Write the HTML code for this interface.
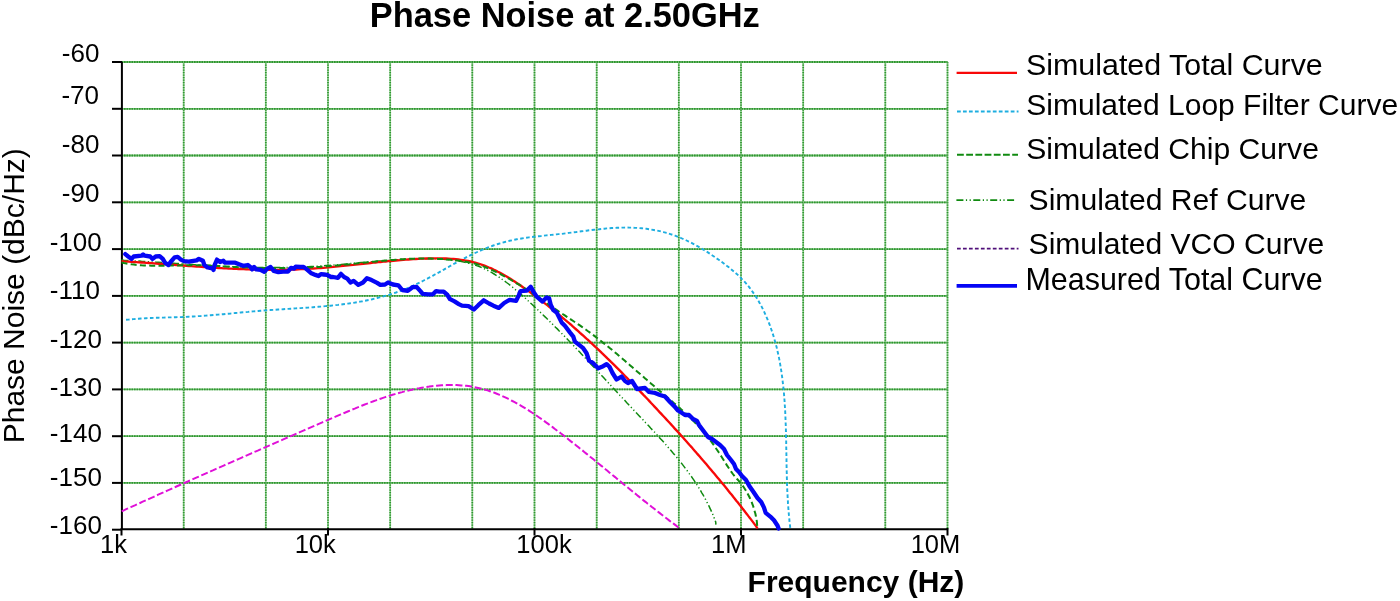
<!DOCTYPE html>
<html><head><meta charset="utf-8"><style>
html,body{margin:0;padding:0;background:#fff;}
svg{display:block;will-change:transform;}
text{font-family:"Liberation Sans",sans-serif;fill:#000;}
.g{stroke:#2f962f;stroke-width:1.7;stroke-dasharray:1.3 1.2;}
.gb{stroke:#8fcc8f;stroke-width:1.7;}
.gh{stroke:#2f962f;stroke-width:1.8;stroke-dasharray:1.6 0.9;}
.ghb{stroke:#7cc27c;stroke-width:1.8;}
</style></head><body>
<svg width="1400" height="601" viewBox="0 0 1400 601">
<rect width="1400" height="601" fill="#fff"/>
<line x1="183.7" y1="62.0" x2="183.7" y2="529.7" class="gb"/>
<line x1="183.7" y1="62.0" x2="183.7" y2="529.7" class="g"/>
<line x1="265.8" y1="62.0" x2="265.8" y2="529.7" class="gb"/>
<line x1="265.8" y1="62.0" x2="265.8" y2="529.7" class="g"/>
<line x1="328.0" y1="62.0" x2="328.0" y2="529.7" class="gb"/>
<line x1="328.0" y1="62.0" x2="328.0" y2="529.7" class="g"/>
<line x1="390.2" y1="62.0" x2="390.2" y2="529.7" class="gb"/>
<line x1="390.2" y1="62.0" x2="390.2" y2="529.7" class="g"/>
<line x1="472.3" y1="62.0" x2="472.3" y2="529.7" class="gb"/>
<line x1="472.3" y1="62.0" x2="472.3" y2="529.7" class="g"/>
<line x1="534.5" y1="62.0" x2="534.5" y2="529.7" class="gb"/>
<line x1="534.5" y1="62.0" x2="534.5" y2="529.7" class="g"/>
<line x1="596.7" y1="62.0" x2="596.7" y2="529.7" class="gb"/>
<line x1="596.7" y1="62.0" x2="596.7" y2="529.7" class="g"/>
<line x1="678.8" y1="62.0" x2="678.8" y2="529.7" class="gb"/>
<line x1="678.8" y1="62.0" x2="678.8" y2="529.7" class="g"/>
<line x1="741.0" y1="62.0" x2="741.0" y2="529.7" class="gb"/>
<line x1="741.0" y1="62.0" x2="741.0" y2="529.7" class="g"/>
<line x1="803.2" y1="62.0" x2="803.2" y2="529.7" class="gb"/>
<line x1="803.2" y1="62.0" x2="803.2" y2="529.7" class="g"/>
<line x1="885.3" y1="62.0" x2="885.3" y2="529.7" class="gb"/>
<line x1="885.3" y1="62.0" x2="885.3" y2="529.7" class="g"/>
<line x1="947.5" y1="62.0" x2="947.5" y2="529.7" class="gb"/>
<line x1="947.5" y1="62.0" x2="947.5" y2="529.7" class="g"/>
<line x1="121.5" y1="62.0" x2="947.5" y2="62.0" class="ghb"/>
<line x1="121.5" y1="62.0" x2="947.5" y2="62.0" class="gh"/>
<line x1="121.5" y1="108.8" x2="947.5" y2="108.8" class="ghb"/>
<line x1="121.5" y1="108.8" x2="947.5" y2="108.8" class="gh"/>
<line x1="121.5" y1="155.5" x2="947.5" y2="155.5" class="ghb"/>
<line x1="121.5" y1="155.5" x2="947.5" y2="155.5" class="gh"/>
<line x1="121.5" y1="202.3" x2="947.5" y2="202.3" class="ghb"/>
<line x1="121.5" y1="202.3" x2="947.5" y2="202.3" class="gh"/>
<line x1="121.5" y1="249.1" x2="947.5" y2="249.1" class="ghb"/>
<line x1="121.5" y1="249.1" x2="947.5" y2="249.1" class="gh"/>
<line x1="121.5" y1="295.9" x2="947.5" y2="295.9" class="ghb"/>
<line x1="121.5" y1="295.9" x2="947.5" y2="295.9" class="gh"/>
<line x1="121.5" y1="342.6" x2="947.5" y2="342.6" class="ghb"/>
<line x1="121.5" y1="342.6" x2="947.5" y2="342.6" class="gh"/>
<line x1="121.5" y1="389.4" x2="947.5" y2="389.4" class="ghb"/>
<line x1="121.5" y1="389.4" x2="947.5" y2="389.4" class="gh"/>
<line x1="121.5" y1="436.2" x2="947.5" y2="436.2" class="ghb"/>
<line x1="121.5" y1="436.2" x2="947.5" y2="436.2" class="gh"/>
<line x1="121.5" y1="482.9" x2="947.5" y2="482.9" class="ghb"/>
<line x1="121.5" y1="482.9" x2="947.5" y2="482.9" class="gh"/>
<path d="M121.9,62.0 V529.2 H947.7" fill="none" stroke="#000" stroke-width="2"/>
<line x1="112" y1="62.0" x2="122" y2="62.0" stroke="#000" stroke-width="2"/>
<line x1="112" y1="108.8" x2="122" y2="108.8" stroke="#000" stroke-width="2"/>
<line x1="112" y1="155.5" x2="122" y2="155.5" stroke="#000" stroke-width="2"/>
<line x1="112" y1="202.3" x2="122" y2="202.3" stroke="#000" stroke-width="2"/>
<line x1="112" y1="249.1" x2="122" y2="249.1" stroke="#000" stroke-width="2"/>
<line x1="112" y1="295.9" x2="122" y2="295.9" stroke="#000" stroke-width="2"/>
<line x1="112" y1="342.6" x2="122" y2="342.6" stroke="#000" stroke-width="2"/>
<line x1="112" y1="389.4" x2="122" y2="389.4" stroke="#000" stroke-width="2"/>
<line x1="112" y1="436.2" x2="122" y2="436.2" stroke="#000" stroke-width="2"/>
<line x1="112" y1="482.9" x2="122" y2="482.9" stroke="#000" stroke-width="2"/>
<line x1="112" y1="529.7" x2="122" y2="529.7" stroke="#000" stroke-width="2"/>
<line x1="121.5" y1="528" x2="121.5" y2="535.5" stroke="#000" stroke-width="2"/>
<line x1="328.0" y1="528" x2="328.0" y2="535.5" stroke="#000" stroke-width="2"/>
<line x1="534.5" y1="528" x2="534.5" y2="535.5" stroke="#000" stroke-width="2"/>
<line x1="741.0" y1="528" x2="741.0" y2="535.5" stroke="#000" stroke-width="2"/>
<line x1="947.5" y1="528" x2="947.5" y2="535.5" stroke="#000" stroke-width="2"/>
<path d="M126.0,319.8 L128.5,319.6 L131.0,319.3 L133.5,319.1 L136.0,318.9 L138.5,318.7 L141.0,318.5 L143.5,318.4 L146.0,318.2 L148.5,318.1 L151.0,318.0 L153.5,317.9 L156.0,317.8 L158.5,317.7 L161.0,317.6 L163.5,317.6 L166.0,317.5 L168.5,317.4 L171.0,317.4 L173.4,317.3 L175.9,317.2 L178.4,317.1 L180.9,317.1 L183.4,317.0 L185.9,316.9 L188.4,316.7 L190.9,316.6 L193.4,316.5 L195.8,316.3 L198.3,316.1 L200.8,316.0 L203.3,315.8 L205.8,315.6 L208.3,315.4 L210.8,315.2 L213.3,315.0 L215.7,314.8 L218.2,314.6 L220.7,314.4 L223.2,314.2 L225.7,313.9 L228.2,313.7 L230.7,313.5 L233.2,313.2 L235.7,313.0 L238.2,312.8 L240.7,312.5 L243.1,312.3 L245.6,312.1 L248.1,311.9 L250.6,311.6 L253.1,311.4 L255.6,311.2 L258.1,311.0 L260.6,310.8 L263.1,310.6 L265.6,310.4 L268.1,310.2 L270.6,310.0 L273.2,309.9 L275.7,309.7 L278.2,309.5 L280.7,309.4 L283.2,309.2 L285.7,309.0 L288.2,308.9 L290.7,308.7 L293.2,308.6 L295.7,308.4 L298.2,308.2 L300.7,308.1 L303.2,307.9 L305.7,307.7 L308.2,307.6 L310.7,307.4 L313.2,307.2 L315.7,307.0 L318.2,306.8 L320.7,306.6 L323.2,306.4 L325.7,306.1 L328.2,305.9 L330.7,305.7 L333.2,305.4 L335.6,305.1 L338.1,304.9 L340.6,304.6 L343.0,304.2 L345.5,303.9 L348.0,303.6 L350.4,303.2 L352.9,302.9 L355.3,302.5 L357.8,302.0 L360.2,301.6 L362.6,301.2 L365.1,300.7 L367.5,300.2 L369.9,299.7 L372.3,299.2 L374.7,298.6 L377.1,298.0 L379.5,297.4 L381.9,296.8 L384.3,296.1 L386.6,295.5 L389.0,294.8 L391.4,294.0 L393.7,293.3 L396.1,292.5 L398.4,291.6 L400.7,290.8 L403.1,289.9 L405.4,289.0 L407.7,288.0 L410.0,287.0 L412.3,286.0 L414.6,285.0 L416.9,283.9 L419.1,282.8 L421.4,281.7 L423.7,280.5 L425.9,279.4 L428.2,278.2 L430.4,277.0 L432.6,275.8 L434.9,274.5 L437.1,273.3 L439.4,272.1 L441.6,270.8 L443.8,269.6 L446.0,268.3 L448.3,267.1 L450.5,265.8 L452.7,264.6 L454.9,263.4 L457.2,262.2 L459.4,261.0 L461.6,259.8 L463.9,258.6 L466.1,257.4 L468.3,256.3 L470.6,255.2 L472.8,254.1 L475.1,253.0 L477.3,252.0 L479.6,251.0 L481.9,250.0 L484.1,249.0 L486.4,248.1 L488.7,247.2 L491.0,246.4 L493.3,245.5 L495.6,244.8 L497.9,244.0 L500.2,243.3 L502.6,242.6 L504.9,242.0 L507.3,241.4 L509.6,240.8 L512.0,240.3 L514.4,239.8 L516.8,239.3 L519.2,238.9 L521.6,238.5 L524.0,238.1 L526.5,237.7 L528.9,237.4 L531.4,237.1 L533.8,236.8 L536.3,236.5 L538.8,236.2 L541.2,236.0 L543.7,235.7 L546.2,235.4 L548.7,235.2 L551.2,234.9 L553.7,234.7 L556.2,234.4 L558.7,234.1 L561.3,233.9 L563.8,233.6 L566.3,233.3 L568.8,232.9 L571.4,232.6 L573.9,232.3 L576.4,232.0 L579.0,231.6 L581.5,231.3 L584.0,231.0 L586.6,230.7 L589.1,230.3 L591.6,230.0 L594.2,229.7 L596.7,229.4 L599.2,229.2 L601.8,228.9 L604.3,228.7 L606.8,228.4 L609.3,228.2 L611.8,228.0 L614.4,227.9 L616.9,227.8 L619.4,227.7 L621.9,227.6 L624.4,227.6 L626.9,227.5 L629.3,227.6 L631.8,227.6 L634.3,227.8 L636.8,227.9 L639.2,228.1 L641.7,228.3 L644.1,228.5 L646.5,228.8 L649.0,229.2 L651.4,229.6 L653.8,230.0 L656.2,230.4 L658.6,230.9 L661.0,231.5 L663.4,232.1 L665.7,232.7 L668.1,233.4 L670.4,234.1 L672.8,234.9 L675.1,235.7 L677.4,236.6 L679.7,237.5 L682.0,238.5 L684.3,239.5 L686.6,240.5 L688.8,241.6 L691.1,242.7 L693.3,243.9 L695.5,245.1 L697.8,246.3 L699.9,247.6 L702.1,248.9 L704.3,250.2 L706.5,251.5 L708.6,252.9 L710.7,254.3 L712.8,255.7 L714.9,257.1 L717.0,258.6 L719.1,260.0 L721.1,261.5 L723.2,263.0 L725.2,264.5 L727.1,266.0 L729.1,267.5 L731.0,269.1 L732.9,270.7 L734.8,272.3 L736.7,273.9 L738.5,275.6 L740.3,277.3 L742.0,279.1 L743.7,280.8 L745.4,282.7 L747.0,284.5 L748.6,286.4 L750.1,288.4 L751.6,290.4 L753.0,292.4 L754.4,294.4 L755.8,296.5 L757.1,298.6 L758.4,300.8 L759.6,303.0 L760.8,305.1 L762.0,307.4 L763.1,309.6 L764.2,311.8 L765.2,314.1 L766.2,316.4 L767.2,318.6 L768.2,321.0 L769.1,323.3 L770.0,325.6 L770.8,328.0 L771.6,330.3 L772.4,332.7 L773.2,335.1 L773.9,337.5 L774.6,339.9 L775.3,342.3 L775.9,344.7 L776.6,347.1 L777.1,349.6 L777.7,352.0 L778.3,354.4 L778.8,356.9 L779.3,359.4 L779.7,361.8 L780.2,364.3 L780.6,366.8 L781.0,369.2 L781.4,371.7 L781.7,374.2 L782.1,376.7 L782.4,379.1 L782.7,381.6 L783.0,384.1 L783.3,386.6 L783.5,389.1 L783.8,391.6 L784.0,394.0 L784.2,396.5 L784.4,399.0 L784.6,401.5 L784.7,404.0 L784.9,406.5 L785.0,409.0 L785.2,411.5 L785.3,413.9 L785.4,416.4 L785.5,418.9 L785.6,421.4 L785.7,423.9 L785.8,426.4 L785.9,428.9 L785.9,431.4 L786.0,433.9 L786.0,436.4 L786.1,438.9 L786.2,441.4 L786.2,443.9 L786.2,446.4 L786.3,448.9 L786.3,451.4 L786.4,453.9 L786.4,456.4 L786.5,458.9 L786.5,461.4 L786.5,463.9 L786.6,466.4 L786.6,468.9 L786.7,471.4 L786.8,473.9 L786.8,476.4 L786.9,478.9 L787.0,481.4 L787.0,483.9 L787.1,486.4 L787.2,488.9 L787.3,491.4 L787.5,493.9 L787.6,496.4 L787.7,498.9 L787.9,501.4 L788.0,503.9 L788.2,506.3 L788.4,508.8 L788.6,511.3 L788.8,513.8 L789.0,516.3 L789.3,518.8 L789.5,521.3 L789.8,523.8 L790.1,526.3 L790.3,528.8" fill="none" stroke="#1eaee0" stroke-width="1.9" stroke-dasharray="3.6 2.4"/>
<path d="M121.7,511.3 L123.9,510.3 L126.2,509.2 L128.5,508.2 L130.8,507.1 L133.1,506.1 L135.4,505.1 L137.7,504.0 L140.0,503.0 L142.2,501.9 L144.5,500.9 L146.8,499.9 L149.1,498.8 L151.4,497.8 L153.7,496.8 L155.9,495.7 L158.2,494.7 L160.5,493.7 L162.8,492.7 L165.1,491.6 L167.3,490.6 L169.6,489.6 L171.9,488.6 L174.2,487.6 L176.4,486.5 L178.7,485.5 L181.0,484.5 L183.3,483.5 L185.5,482.5 L187.8,481.5 L190.1,480.4 L192.4,479.4 L194.6,478.4 L196.9,477.4 L199.2,476.4 L201.4,475.4 L203.7,474.4 L206.0,473.4 L208.3,472.4 L210.5,471.4 L212.8,470.4 L215.1,469.3 L217.3,468.3 L219.6,467.3 L221.9,466.3 L224.2,465.3 L226.4,464.3 L228.7,463.3 L231.0,462.3 L233.2,461.3 L235.5,460.3 L237.8,459.3 L240.1,458.3 L242.3,457.3 L244.6,456.3 L246.9,455.3 L249.1,454.3 L251.4,453.3 L253.7,452.3 L256.0,451.3 L258.3,450.4 L260.5,449.4 L262.8,448.4 L265.1,447.4 L267.4,446.4 L269.6,445.4 L271.9,444.4 L274.2,443.4 L276.5,442.4 L278.8,441.4 L281.0,440.4 L283.3,439.4 L285.6,438.4 L287.9,437.4 L290.2,436.4 L292.5,435.4 L294.8,434.4 L297.0,433.4 L299.3,432.4 L301.6,431.4 L303.9,430.4 L306.2,429.4 L308.5,428.4 L310.8,427.4 L313.1,426.4 L315.4,425.4 L317.7,424.4 L320.0,423.4 L322.3,422.4 L324.6,421.4 L326.9,420.4 L329.2,419.4 L331.5,418.4 L333.8,417.4 L336.1,416.4 L338.5,415.4 L340.8,414.4 L343.1,413.4 L345.4,412.5 L347.7,411.5 L350.1,410.5 L352.4,409.5 L354.7,408.6 L357.0,407.6 L359.4,406.7 L361.7,405.7 L364.1,404.8 L366.4,403.9 L368.8,403.0 L371.1,402.1 L373.5,401.2 L375.8,400.4 L378.2,399.5 L380.6,398.7 L383.0,397.9 L385.3,397.1 L387.7,396.3 L390.1,395.6 L392.5,394.8 L394.9,394.1 L397.3,393.4 L399.7,392.7 L402.2,392.1 L404.6,391.4 L407.0,390.8 L409.5,390.2 L411.9,389.7 L414.3,389.1 L416.8,388.6 L419.3,388.2 L421.7,387.7 L424.2,387.3 L426.7,386.9 L429.2,386.6 L431.7,386.2 L434.1,386.0 L436.6,385.7 L439.1,385.5 L441.6,385.3 L444.1,385.2 L446.6,385.1 L449.0,385.0 L451.5,385.0 L454.0,385.0 L456.5,385.1 L458.9,385.2 L461.4,385.4 L463.8,385.6 L466.2,385.8 L468.7,386.1 L471.1,386.5 L473.5,386.9 L475.8,387.4 L478.2,387.9 L480.6,388.5 L482.9,389.1 L485.3,389.7 L487.6,390.4 L489.9,391.2 L492.2,392.0 L494.5,392.8 L496.8,393.7 L499.0,394.6 L501.3,395.6 L503.5,396.6 L505.8,397.6 L508.0,398.7 L510.2,399.8 L512.4,401.0 L514.6,402.1 L516.8,403.3 L519.0,404.6 L521.2,405.8 L523.3,407.1 L525.5,408.4 L527.6,409.7 L529.7,411.1 L531.8,412.5 L534.0,413.9 L536.1,415.3 L538.1,416.7 L540.2,418.2 L542.3,419.6 L544.4,421.1 L546.4,422.6 L548.5,424.1 L550.5,425.6 L552.6,427.1 L554.6,428.7 L556.6,430.2 L558.7,431.7 L560.7,433.3 L562.7,434.8 L564.7,436.4 L566.7,437.9 L568.6,439.5 L570.6,441.1 L572.6,442.6 L574.6,444.2 L576.5,445.7 L578.5,447.3 L580.4,448.9 L582.4,450.4 L584.3,452.0 L586.3,453.6 L588.2,455.1 L590.1,456.7 L592.1,458.3 L594.0,459.8 L595.9,461.4 L597.8,463.0 L599.7,464.5 L601.7,466.1 L603.6,467.7 L605.5,469.3 L607.4,470.8 L609.3,472.4 L611.2,474.0 L613.1,475.5 L615.1,477.1 L617.0,478.7 L618.9,480.3 L620.8,481.8 L622.7,483.4 L624.6,485.0 L626.5,486.5 L628.4,488.1 L630.4,489.7 L632.3,491.2 L634.2,492.8 L636.1,494.3 L638.0,495.9 L640.0,497.5 L641.9,499.0 L643.8,500.6 L645.8,502.1 L647.7,503.7 L649.7,505.2 L651.6,506.8 L653.6,508.3 L655.5,509.8 L657.5,511.4 L659.5,512.9 L661.5,514.5 L663.4,516.0 L665.4,517.5 L667.4,519.0 L669.4,520.6 L671.4,522.1 L673.5,523.6 L675.5,525.1 L677.5,526.6 L679.1,528.6" fill="none" stroke="#e010d8" stroke-width="2" stroke-dasharray="7 2.7"/>
<path d="M121.5,259.8 L124.2,260.4 L126.7,260.5 L129.1,260.6 L131.6,260.7 L134.0,260.9 L136.5,261.0 L139.0,261.1 L141.4,261.3 L143.9,261.4 L146.3,261.6 L148.8,261.7 L151.3,261.9 L153.8,262.0 L156.2,262.2 L158.7,262.3 L161.2,262.5 L163.6,262.7 L166.1,262.8 L168.6,263.0 L171.1,263.1 L173.5,263.3 L176.0,263.5 L178.5,263.6 L181.0,263.8 L183.5,263.9 L186.0,264.1 L188.4,264.3 L190.9,264.4 L193.4,264.6 L195.9,264.7 L198.4,264.9 L200.9,265.0 L203.4,265.2 L205.9,265.3 L208.4,265.5 L210.9,265.6 L213.3,265.8 L215.8,265.9 L218.3,266.0 L220.8,266.1 L223.3,266.3 L225.8,266.4 L228.3,266.5 L230.8,266.6 L233.3,266.7 L235.8,266.8 L238.3,266.9 L240.8,267.0 L243.3,267.1 L245.8,267.2 L248.3,267.3 L250.8,267.3 L253.4,267.4 L255.9,267.4 L258.4,267.5 L260.9,267.5 L263.4,267.6 L265.9,267.6 L268.4,267.6 L270.9,267.6 L273.4,267.6 L275.9,267.6 L278.4,267.6 L280.9,267.6 L283.4,267.6 L285.9,267.5 L288.5,267.5 L291.0,267.4 L293.5,267.4 L296.0,267.3 L298.5,267.2 L301.0,267.1 L303.5,267.0 L306.0,266.9 L308.5,266.7 L311.0,266.6 L313.6,266.5 L316.1,266.3 L318.6,266.1 L321.1,266.0 L323.6,265.8 L326.1,265.6 L328.6,265.4 L331.1,265.2 L333.6,265.0 L336.1,264.8 L338.6,264.6 L341.2,264.4 L343.7,264.2 L346.2,264.0 L348.7,263.7 L351.2,263.5 L353.7,263.3 L356.2,263.1 L358.7,262.8 L361.2,262.6 L363.7,262.4 L366.2,262.2 L368.7,262.0 L371.2,261.7 L373.7,261.5 L376.2,261.3 L378.7,261.1 L381.2,260.9 L383.7,260.7 L386.2,260.5 L388.7,260.4 L391.2,260.2 L393.7,260.0 L396.2,259.8 L398.7,259.7 L401.2,259.5 L403.7,259.4 L406.2,259.3 L408.7,259.2 L411.2,259.1 L413.7,259.0 L416.2,258.9 L418.6,258.8 L421.1,258.8 L423.6,258.7 L426.1,258.7 L428.6,258.7 L431.1,258.7 L433.5,258.8 L436.0,258.8 L438.4,258.9 L440.9,259.0 L443.3,259.2 L445.8,259.4 L448.2,259.6 L450.6,259.9 L453.0,260.2 L455.4,260.5 L457.8,260.9 L460.2,261.3 L462.6,261.8 L464.9,262.3 L467.3,262.8 L469.6,263.4 L471.9,264.1 L474.2,264.8 L476.5,265.6 L478.7,266.4 L481.0,267.3 L483.2,268.3 L485.4,269.3 L487.6,270.4 L489.8,271.5 L491.9,272.7 L494.1,274.0 L496.2,275.3 L498.3,276.6 L500.4,278.0 L502.4,279.5 L504.5,281.0 L506.5,282.5 L508.6,284.0 L510.6,285.6 L512.6,287.2 L514.5,288.9 L516.5,290.5 L518.5,292.2 L520.4,293.9 L522.4,295.6 L524.3,297.3 L526.2,299.1 L528.1,300.8 L530.0,302.6 L531.9,304.3 L533.7,306.0 L535.6,307.8 L537.4,309.5 L539.3,311.3 L541.1,313.0 L542.9,314.8 L544.8,316.6 L546.6,318.3 L548.4,320.1 L550.2,321.9 L552.0,323.6 L553.7,325.4 L555.5,327.2 L557.3,328.9 L559.0,330.7 L560.8,332.5 L562.5,334.3 L564.3,336.0 L566.0,337.8 L567.7,339.6 L569.5,341.4 L571.2,343.2 L572.9,344.9 L574.6,346.7 L576.3,348.5 L578.0,350.3 L579.7,352.1 L581.4,353.9 L583.1,355.7 L584.8,357.5 L586.5,359.3 L588.2,361.1 L589.8,362.9 L591.5,364.7 L593.2,366.5 L594.9,368.3 L596.6,370.1 L598.2,371.9 L599.9,373.7 L601.6,375.5 L603.3,377.3 L604.9,379.1 L606.6,380.9 L608.3,382.7 L610.0,384.5 L611.6,386.3 L613.3,388.2 L615.0,390.0 L616.7,391.8 L618.3,393.6 L620.0,395.4 L621.7,397.2 L623.4,399.0 L625.1,400.8 L626.8,402.7 L628.5,404.5 L630.2,406.3 L631.9,408.1 L633.6,409.9 L635.3,411.7 L637.0,413.6 L638.8,415.4 L640.5,417.2 L642.2,419.0 L643.9,420.8 L645.6,422.7 L647.4,424.5 L649.1,426.3 L650.8,428.2 L652.5,430.0 L654.2,431.8 L655.9,433.7 L657.6,435.5 L659.3,437.4 L661.0,439.3 L662.7,441.1 L664.4,443.0 L666.1,444.9 L667.7,446.8 L669.4,448.7 L671.0,450.6 L672.6,452.5 L674.3,454.4 L675.9,456.3 L677.5,458.2 L679.0,460.2 L680.6,462.1 L682.2,464.1 L683.7,466.1 L685.2,468.1 L686.7,470.1 L688.2,472.1 L689.6,474.1 L691.1,476.1 L692.5,478.1 L693.9,480.2 L695.3,482.3 L696.6,484.3 L698.0,486.4 L699.3,488.5 L700.6,490.6 L701.8,492.8 L703.1,494.9 L704.3,497.1 L705.5,499.3 L706.6,501.5 L707.8,503.7 L708.9,505.9 L709.9,508.1 L711.0,510.4 L712.0,512.7 L713.0,515.0 L713.9,517.3 L714.8,519.6 L715.7,522.0 L715.9,524.6" fill="none" stroke="#108a10" stroke-width="1.5" stroke-dasharray="7 2.5 1.2 2.5 1.2 2.5"/>
<path d="M121.5,261.1 L123.8,261.4 L126.3,261.6 L128.8,261.7 L131.4,261.9 L133.9,262.0 L136.4,262.2 L138.9,262.4 L141.4,262.5 L143.9,262.7 L146.4,262.9 L149.0,263.0 L151.5,263.2 L154.0,263.4 L156.5,263.6 L159.0,263.8 L161.5,263.9 L164.0,264.1 L166.5,264.3 L169.0,264.5 L171.5,264.7 L174.0,264.9 L176.5,265.1 L179.0,265.2 L181.5,265.4 L184.0,265.6 L186.5,265.8 L189.0,266.0 L191.5,266.2 L194.0,266.3 L196.5,266.5 L198.9,266.7 L201.4,266.9 L203.9,267.0 L206.4,267.2 L208.9,267.4 L211.4,267.5 L213.9,267.7 L216.4,267.8 L218.9,268.0 L221.4,268.1 L223.8,268.3 L226.3,268.4 L228.8,268.6 L231.3,268.7 L233.8,268.8 L236.3,268.9 L238.7,269.0 L241.2,269.1 L243.7,269.2 L246.2,269.3 L248.7,269.4 L251.2,269.5 L253.7,269.6 L256.1,269.6 L258.6,269.7 L261.1,269.7 L263.6,269.8 L266.1,269.8 L268.5,269.8 L271.0,269.8 L273.5,269.8 L276.0,269.8 L278.5,269.8 L281.0,269.8 L283.4,269.8 L285.9,269.7 L288.4,269.7 L290.9,269.6 L293.4,269.5 L295.9,269.5 L298.3,269.4 L300.8,269.2 L303.3,269.1 L305.8,269.0 L308.3,268.8 L310.8,268.7 L313.3,268.5 L315.8,268.4 L318.2,268.2 L320.7,268.0 L323.2,267.8 L325.7,267.6 L328.2,267.3 L330.7,267.1 L333.2,266.9 L335.7,266.7 L338.2,266.4 L340.6,266.2 L343.1,265.9 L345.6,265.7 L348.1,265.4 L350.6,265.1 L353.1,264.9 L355.6,264.6 L358.1,264.3 L360.6,264.1 L363.1,263.8 L365.6,263.5 L368.1,263.3 L370.6,263.0 L373.1,262.7 L375.6,262.5 L378.1,262.2 L380.6,262.0 L383.2,261.7 L385.7,261.5 L388.2,261.2 L390.7,261.0 L393.2,260.8 L395.7,260.5 L398.2,260.3 L400.7,260.1 L403.3,259.9 L405.8,259.7 L408.3,259.5 L410.8,259.3 L413.3,259.2 L415.9,259.0 L418.4,258.9 L420.9,258.7 L423.4,258.6 L426.0,258.5 L428.5,258.4 L431.0,258.4 L433.5,258.3 L436.0,258.3 L438.6,258.3 L441.1,258.3 L443.6,258.4 L446.1,258.5 L448.5,258.6 L451.0,258.8 L453.5,259.0 L455.9,259.2 L458.4,259.5 L460.8,259.8 L463.3,260.2 L465.7,260.6 L468.1,261.0 L470.5,261.5 L472.8,262.1 L475.2,262.7 L477.5,263.3 L479.9,264.0 L482.2,264.8 L484.5,265.6 L486.7,266.5 L489.0,267.5 L491.3,268.4 L493.5,269.5 L495.7,270.5 L497.9,271.7 L500.1,272.8 L502.3,274.0 L504.4,275.2 L506.6,276.5 L508.7,277.8 L510.8,279.1 L512.9,280.4 L515.0,281.8 L517.1,283.2 L519.2,284.6 L521.3,286.0 L523.3,287.5 L525.4,288.9 L527.4,290.4 L529.5,291.8 L531.5,293.3 L533.5,294.8 L535.6,296.3 L537.6,297.8 L539.6,299.3 L541.6,300.8 L543.5,302.4 L545.5,303.9 L547.5,305.4 L549.5,307.0 L551.4,308.6 L553.4,310.1 L555.3,311.7 L557.3,313.3 L559.2,314.9 L561.1,316.5 L563.0,318.1 L564.9,319.7 L566.9,321.3 L568.8,322.9 L570.7,324.5 L572.5,326.2 L574.4,327.8 L576.3,329.5 L578.2,331.1 L580.0,332.8 L581.9,334.5 L583.8,336.1 L585.6,337.8 L587.4,339.5 L589.3,341.2 L591.1,342.9 L593.0,344.6 L594.8,346.3 L596.6,348.0 L598.4,349.7 L600.2,351.4 L602.0,353.2 L603.8,354.9 L605.6,356.6 L607.4,358.4 L609.2,360.1 L611.0,361.9 L612.8,363.6 L614.6,365.4 L616.3,367.1 L618.1,368.9 L619.9,370.7 L621.6,372.4 L623.4,374.2 L625.1,376.0 L626.9,377.8 L628.6,379.6 L630.4,381.3 L632.1,383.1 L633.9,384.9 L635.6,386.7 L637.3,388.5 L639.1,390.3 L640.8,392.1 L642.5,393.9 L644.2,395.7 L646.0,397.5 L647.7,399.3 L649.4,401.1 L651.1,403.0 L652.8,404.8 L654.5,406.6 L656.2,408.4 L657.9,410.2 L659.6,412.1 L661.3,413.9 L663.0,415.7 L664.7,417.5 L666.4,419.4 L668.1,421.2 L669.8,423.0 L671.5,424.9 L673.2,426.7 L674.8,428.6 L676.5,430.4 L678.2,432.3 L679.9,434.1 L681.5,436.0 L683.2,437.8 L684.9,439.7 L686.5,441.5 L688.2,443.4 L689.8,445.3 L691.5,447.1 L693.1,449.0 L694.8,450.9 L696.4,452.8 L698.0,454.6 L699.7,456.5 L701.3,458.4 L702.9,460.3 L704.6,462.2 L706.2,464.1 L707.8,466.0 L709.4,467.9 L711.0,469.8 L712.6,471.7 L714.2,473.6 L715.8,475.5 L717.4,477.4 L719.0,479.3 L720.6,481.3 L722.2,483.2 L723.8,485.1 L725.4,487.0 L727.0,489.0 L728.5,490.9 L730.1,492.9 L731.7,494.8 L733.2,496.8 L734.8,498.7 L736.3,500.7 L737.9,502.6 L739.4,504.6 L741.0,506.5 L742.5,508.5 L744.1,510.5 L745.6,512.5 L747.1,514.4 L748.6,516.4 L750.2,518.4 L751.7,520.4 L753.2,522.4 L754.7,524.4 L756.2,526.4 L757.5,528.5" fill="none" stroke="#f80808" stroke-width="2.35"/>
<path d="M121.5,262.6 L123.9,263.1 L126.4,263.5 L128.9,263.9 L131.4,264.3 L133.9,264.6 L136.5,264.9 L139.0,265.1 L141.5,265.3 L144.0,265.4 L146.5,265.5 L149.0,265.6 L151.5,265.7 L154.0,265.7 L156.5,265.7 L159.0,265.7 L161.5,265.7 L164.0,265.7 L166.5,265.7 L169.0,265.6 L171.4,265.5 L173.9,265.5 L176.4,265.4 L178.9,265.4 L181.4,265.3 L183.9,265.3 L186.4,265.2 L188.9,265.2 L191.4,265.2 L193.9,265.2 L196.3,265.2 L198.8,265.2 L201.3,265.3 L203.8,265.4 L206.3,265.5 L208.8,265.6 L211.3,265.7 L213.7,265.9 L216.2,266.0 L218.7,266.1 L221.2,266.3 L223.7,266.4 L226.2,266.6 L228.7,266.7 L231.1,266.9 L233.6,267.0 L236.1,267.1 L238.6,267.2 L241.1,267.3 L243.6,267.4 L246.0,267.5 L248.5,267.6 L251.0,267.7 L253.5,267.8 L256.0,267.9 L258.5,267.9 L260.9,268.0 L263.4,268.0 L265.9,268.1 L268.4,268.1 L270.9,268.1 L273.4,268.1 L275.8,268.1 L278.3,268.1 L280.8,268.1 L283.3,268.1 L285.8,268.1 L288.3,268.1 L290.8,268.0 L293.3,268.0 L295.7,267.9 L298.2,267.8 L300.7,267.7 L303.2,267.7 L305.7,267.6 L308.2,267.4 L310.7,267.3 L313.2,267.2 L315.7,267.1 L318.2,266.9 L320.7,266.8 L323.2,266.6 L325.7,266.4 L328.2,266.2 L330.7,266.0 L333.2,265.8 L335.7,265.6 L338.2,265.4 L340.7,265.1 L343.2,264.9 L345.7,264.6 L348.2,264.4 L350.7,264.1 L353.2,263.8 L355.7,263.6 L358.2,263.3 L360.7,263.0 L363.2,262.8 L365.7,262.5 L368.2,262.2 L370.8,262.0 L373.3,261.7 L375.8,261.5 L378.3,261.2 L380.8,261.0 L383.3,260.7 L385.8,260.5 L388.3,260.3 L390.8,260.1 L393.3,259.9 L395.8,259.7 L398.2,259.5 L400.7,259.3 L403.2,259.2 L405.7,259.0 L408.2,258.9 L410.7,258.8 L413.2,258.7 L415.7,258.6 L418.1,258.6 L420.6,258.5 L423.1,258.5 L425.6,258.5 L428.0,258.6 L430.5,258.6 L433.0,258.7 L435.4,258.8 L437.9,258.9 L440.3,259.0 L442.8,259.1 L445.2,259.3 L447.7,259.5 L450.1,259.7 L452.5,260.0 L455.0,260.2 L457.4,260.5 L459.8,260.8 L462.3,261.2 L464.7,261.5 L467.1,261.9 L469.5,262.4 L471.9,262.9 L474.3,263.5 L476.7,264.1 L479.0,264.9 L481.4,265.7 L483.8,266.6 L486.1,267.5 L488.5,268.5 L490.8,269.5 L493.1,270.6 L495.4,271.7 L497.7,272.8 L500.0,273.9 L502.2,275.1 L504.5,276.3 L506.7,277.5 L508.9,278.7 L511.1,280.0 L513.3,281.3 L515.5,282.6 L517.6,283.9 L519.8,285.2 L521.9,286.5 L524.0,287.8 L526.0,289.2 L528.1,290.5 L530.1,291.9 L532.2,293.2 L534.2,294.6 L536.2,296.0 L538.3,297.4 L540.3,298.8 L542.3,300.1 L544.3,301.5 L546.3,302.9 L548.3,304.3 L550.4,305.7 L552.4,307.1 L554.4,308.5 L556.5,309.9 L558.6,311.3 L560.7,312.6 L562.7,314.0 L564.8,315.4 L566.9,316.8 L569.0,318.2 L571.1,319.6 L573.2,321.0 L575.3,322.4 L577.4,323.8 L579.5,325.2 L581.6,326.6 L583.6,328.1 L585.7,329.5 L587.7,331.0 L589.7,332.4 L591.7,333.9 L593.7,335.4 L595.7,336.9 L597.7,338.5 L599.7,340.0 L601.6,341.5 L603.6,343.1 L605.5,344.6 L607.5,346.2 L609.4,347.8 L611.3,349.3 L613.2,350.9 L615.1,352.5 L617.0,354.1 L618.9,355.7 L620.8,357.3 L622.7,358.9 L624.6,360.5 L626.5,362.2 L628.3,363.8 L630.2,365.4 L632.1,367.0 L634.0,368.7 L635.8,370.3 L637.7,371.9 L639.6,373.6 L641.5,375.2 L643.3,376.8 L645.2,378.5 L647.1,380.1 L649.0,381.7 L650.9,383.4 L652.8,385.0 L654.7,386.6 L656.6,388.3 L658.5,389.9 L660.4,391.5 L662.3,393.1 L664.3,394.7 L666.2,396.4 L668.1,398.0 L670.0,399.6 L671.9,401.2 L673.8,402.9 L675.7,404.5 L677.6,406.2 L679.5,407.8 L681.3,409.5 L683.2,411.2 L685.0,412.9 L686.8,414.6 L688.7,416.3 L690.4,418.0 L692.2,419.7 L694.0,421.5 L695.7,423.3 L697.4,425.1 L699.1,426.9 L700.8,428.7 L702.4,430.5 L704.0,432.4 L705.6,434.3 L707.2,436.2 L708.7,438.1 L710.2,440.1 L711.7,442.1 L713.1,444.1 L714.5,446.1 L715.9,448.2 L717.3,450.2 L718.7,452.3 L720.0,454.4 L721.4,456.5 L722.8,458.7 L724.1,460.8 L725.5,462.9 L726.8,465.1 L728.2,467.2 L729.6,469.4 L731.0,471.4 L732.5,473.5 L734.0,475.4 L735.5,477.2 L737.1,479.0 L738.6,480.7 L740.1,482.5 L741.6,484.3 L743.1,486.3 L744.4,488.3 L745.8,490.4 L747.0,492.6 L748.2,494.8 L749.4,497.0 L750.4,499.3 L751.5,501.7 L752.4,504.1 L753.3,506.5 L754.0,508.9 L754.7,511.4 L755.4,513.8 L755.9,516.3 L756.4,518.7 L756.8,521.2 L757.0,523.6 L757.2,526.1 L757.5,528.5" fill="none" stroke="#108a10" stroke-width="2" stroke-dasharray="6 3.3"/>
<path d="M125.3,254.1 L128.2,256.5 L131.4,258.9 L133.7,256.5 L141.6,255.7 L143.1,254.5 L144.7,255.7 L150.2,256.5 L152.6,258.9 L155.7,256.5 L159.6,256.1 L162.8,258.9 L165.1,262.8 L168.3,265.1 L170.6,262.0 L174.6,257.3 L177.7,256.9 L180.9,259.6 L184.0,261.2 L188.7,261.6 L196.6,260.4 L198.9,258.9 L202.9,260.8 L204.4,265.1 L207.6,267.5 L212.3,268.3 L213.5,269.9 L214.6,265.1 L217.0,259.6 L220.1,262.0 L223.3,260.8 L225.0,262.7 L229.7,262.7 L235.2,262.7 L239.1,264.3 L243.1,265.8 L247.8,265.0 L250.9,267.4 L252.1,269.4 L254.1,267.0 L256.4,269.4 L260.4,269.8 L264.3,271.7 L267.4,268.6 L270.6,267.0 L273.7,270.9 L278.4,272.1 L283.1,271.7 L287.9,271.7 L291.0,267.8 L294.1,268.6 L295.7,266.6 L300.4,267.0 L303.6,267.0 L305.9,268.6 L309.1,271.3 L311.4,273.3 L315.4,274.9 L318.5,276.0 L320.9,274.1 L324.0,274.5 L327.1,274.9 L331.0,277.0 L333.1,277.0 L337.9,277.8 L341.0,273.9 L344.1,277.0 L347.3,278.6 L350.4,282.5 L353.6,280.9 L358.3,284.9 L363.0,282.5 L366.9,278.2 L371.6,280.1 L377.1,282.9 L380.3,284.9 L385.0,284.5 L388.1,282.5 L392.9,284.5 L398.4,285.3 L402.3,290.0 L407.8,290.8 L412.5,287.2 L416.4,286.8 L420.4,291.1 L422.7,293.9 L428.2,294.3 L432.9,294.3 L436.1,291.1 L439.3,291.6 L443.7,291.6 L446.9,294.3 L450.1,299.2 L454.5,301.4 L458.8,304.1 L462.0,305.7 L468.5,306.2 L473.9,309.5 L478.3,305.2 L483.7,300.3 L489.1,303.5 L493.4,305.7 L498.8,307.9 L504.2,303.0 L509.6,299.8 L516.1,300.8 L518.8,295.4 L520.5,291.1 L526.9,290.6 L530.7,286.8 L533.4,291.6 L536.7,296.6 L542.5,301.6 L546.6,297.5 L549.1,298.3 L550.8,305.0 L553.3,310.0 L556.6,312.4 L559.1,317.4 L561.6,322.4 L564.9,325.8 L569.9,332.4 L573.3,336.6 L574.9,341.6 L579.1,344.9 L583.2,348.2 L586.6,353.2 L589.1,360.7 L593.2,363.2 L598.2,368.2 L603.2,366.2 L606.6,364.1 L609.5,366.8 L612.5,373.0 L616.6,379.5 L621.6,376.6 L625.0,381.0 L628.0,383.0 L632.0,381.0 L637.0,389.0 L645.0,388.0 L649.0,392.0 L655.0,393.0 L660.0,395.0 L665.0,396.5 L670.0,402.0 L675.0,407.0 L678.0,410.5 L682.0,413.0 L685.0,415.0 L689.0,415.0 L693.0,419.0 L697.0,421.0 L699.0,425.0 L702.0,429.0 L708.0,437.0 L712.0,439.0 L716.0,442.0 L720.0,445.0 L724.0,449.0 L727.0,455.0 L731.0,460.0 L734.0,464.0 L736.0,469.0 L739.0,472.0 L742.0,476.0 L746.0,480.0 L749.3,486.0 L753.5,492.0 L757.5,498.0 L761.2,502.0 L763.9,507.4 L765.7,512.9 L770.3,516.6 L774.0,520.3 L777.6,525.7 L778.6,528.5" fill="none" stroke="#0505f5" stroke-width="4.3" stroke-linejoin="round" stroke-linecap="round"/>
<line x1="956.6" y1="72.9" x2="1017" y2="72.9" stroke="#f80808" stroke-width="2.4"/>
<line x1="957" y1="111.5" x2="1018.5" y2="111.5" stroke="#1eaee0" stroke-width="1.9" stroke-dasharray="3.75 2.22"/>
<line x1="957" y1="154.8" x2="1018" y2="154.8" stroke="#108a10" stroke-width="1.9" stroke-dasharray="6.8 2.4"/>
<line x1="956.4" y1="200.2" x2="1016" y2="200.2" stroke="#108a10" stroke-width="1.7" stroke-dasharray="7 2.5 1.2 2.5 1.2 2.5"/>
<line x1="957" y1="248.6" x2="1018.5" y2="248.6" stroke="#50107a" stroke-width="1.7" stroke-dasharray="3.75 2.22"/>
<line x1="956.6" y1="285.9" x2="1017" y2="285.9" stroke="#0505f5" stroke-width="3.8"/>
<text x="369.8" y="27.1" font-size="34.4" font-weight="bold" text-anchor="start" >Phase Noise at 2.50GHz</text>
<text x="1026.0" y="75.1" font-size="30.4" font-weight="normal" text-anchor="start" >Simulated Total Curve</text>
<text x="1026.3" y="114.7" font-size="30.0" font-weight="normal" text-anchor="start" >Simulated Loop Filter Curve</text>
<text x="1026.2" y="159.2" font-size="30.1" font-weight="normal" text-anchor="start" >Simulated Chip Curve</text>
<text x="1028.6" y="209.6" font-size="30.1" font-weight="normal" text-anchor="start" >Simulated Ref Curve</text>
<text x="1028.6" y="253.9" font-size="30.05" font-weight="normal" text-anchor="start" >Simulated VCO Curve</text>
<text x="1025.5" y="290.1" font-size="30.45" font-weight="normal" text-anchor="start" >Measured Total Curve</text>
<text x="61.8" y="62.4" font-size="26.0" font-weight="normal" text-anchor="start" >-60</text>
<text x="61.4" y="104.2" font-size="26.0" font-weight="normal" text-anchor="start" >-70</text>
<text x="61.8" y="153.3" font-size="26.0" font-weight="normal" text-anchor="start" >-80</text>
<text x="61.8" y="201.6" font-size="26.0" font-weight="normal" text-anchor="start" >-90</text>
<text x="49.7" y="250.5" font-size="26.0" font-weight="normal" text-anchor="start" >-100</text>
<text x="49.8" y="299.1" font-size="26.0" font-weight="normal" text-anchor="start" >-110</text>
<text x="49.8" y="347.9" font-size="26.0" font-weight="normal" text-anchor="start" >-120</text>
<text x="49.8" y="396.3" font-size="26.0" font-weight="normal" text-anchor="start" >-130</text>
<text x="49.8" y="441.6" font-size="26.0" font-weight="normal" text-anchor="start" >-140</text>
<text x="49.8" y="486.3" font-size="26.0" font-weight="normal" text-anchor="start" >-150</text>
<text x="49.8" y="533.6" font-size="26.0" font-weight="normal" text-anchor="start" >-160</text>
<text x="100.05" y="553" font-size="25.5" font-weight="normal" text-anchor="start" >1k</text>
<text x="294.65" y="553" font-size="25.5" font-weight="normal" text-anchor="start" >10k</text>
<text x="516.35" y="553" font-size="25.5" font-weight="normal" text-anchor="start" >100k</text>
<text x="711.05" y="553" font-size="25.5" font-weight="normal" text-anchor="start" >1M</text>
<text x="910.65" y="553" font-size="25.5" font-weight="normal" text-anchor="start" >10M</text>
<text x="747.6" y="591.8" font-size="30" font-weight="bold" text-anchor="start" >Frequency (Hz)</text>
<text x="0" y="0" font-size="30" transform="translate(24.3,443.3) rotate(-90)">Phase Noise (dBc/Hz)</text>
</svg>
</body></html>
